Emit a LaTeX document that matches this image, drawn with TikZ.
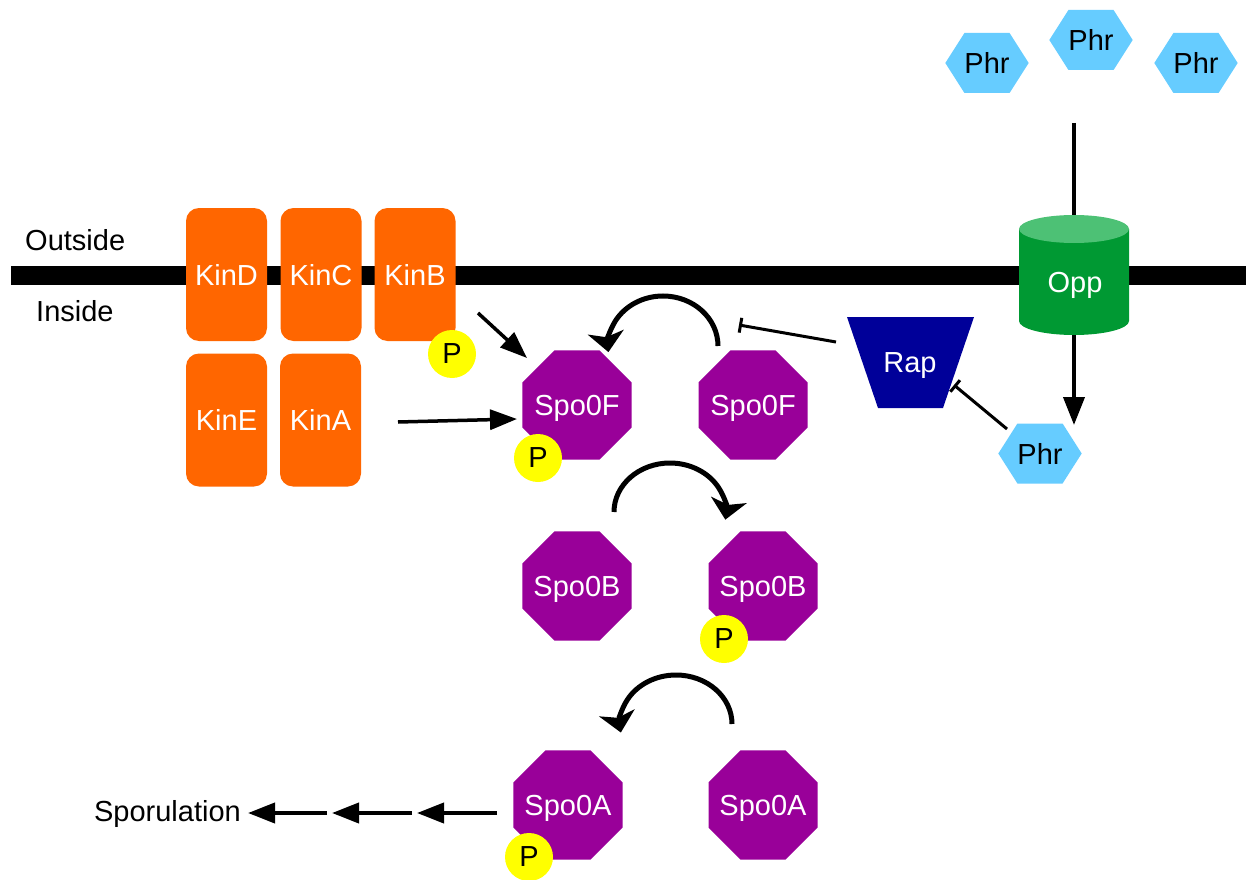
\documentclass[tikz,border=0pt]{standalone}
\usepackage{fontspec}
\setmainfont{Liberation Sans}
\usetikzlibrary{arrows.meta,shapes.geometric,shapes.symbols}

\definecolor{kinorange}{HTML}{FF6600}
\definecolor{spopurple}{HTML}{990099}
\definecolor{phosyellow}{HTML}{FFFF00}
\definecolor{phrblue}{HTML}{66CCFF}
\definecolor{rapblue}{HTML}{000099}
\definecolor{oppgreen}{HTML}{009933}
\definecolor{opptop}{HTML}{4DC175}

\newcommand{\lblfont}{\fontsize{29}{34}\selectfont}

\begin{document}
\begin{tikzpicture}[x=1pt,y=-1pt,
  lbl/.style={font=\lblfont, text depth=0pt},
  kinase/.style={lbl, rectangle, rounded corners=13pt, fill=kinorange, text=white,
    minimum width=81, minimum height=133, inner sep=0},
  spo/.style={regular polygon, regular polygon sides=8, minimum size=118,
    inner sep=0, outer sep=0, fill=spopurple,
    label={[lbl, text=white, inner sep=0]center:#1}},
  phos/.style={lbl, circle, fill=phosyellow, minimum size=48, inner sep=0},
  phr/.style={lbl, signal, signal to=west and east, signal pointer angle=115,
    fill=phrblue, minimum width=78, minimum height=60, inner sep=0},
  stick/.style={line width=3.5pt, -{Triangle[length=27pt,width=20pt]}},
  turn/.style={line width=5pt, -{Stealth[length=20pt,width=36pt,inset=5pt]}},
  inhib/.style={line width=3pt, -{Bar[width=15pt]}}]

\useasboundingbox (0,0) rectangle (1251,880);
\fill[white] (0,0) rectangle (1251,880);

% membrane
\node[fill=black, minimum width=1235, minimum height=19, inner sep=0] (membrane) at (628.5,275.5) {};
\node[lbl, anchor=west, inner sep=0] (outside) at (25,240) {Outside};
\node[lbl, anchor=west, inner sep=0] (inside) at (36,311) {Inside};

% kinases
\node[kinase] (kinD) at (226.5,274.5) {KinD};
\node[kinase] (kinC) at (321,274.5) {KinC};
\node[kinase] (kinB) at (415,274.5) {KinB};
\node[kinase] (kinE) at (226.5,420) {KinE};
\node[kinase] (kinA) at (320.5,420) {KinA};
\node[phos] (pB) at (452,354) {P};

% phosphorelay
\node[spo=Spo0F] (spoFp) at (577,405) {};
\node[spo=Spo0F] (spoF) at (753,405) {};
\node[phos] (pF) at (538,458) {P};
\node[spo=Spo0B] (spoB) at (577,586) {};
\node[spo=Spo0B] (spoBp) at (763,586) {};
\node[phos] (pBB) at (724,639) {P};
\node[spo=Spo0A] (spoAp) at (568,805) {};
\node[spo=Spo0A] (spoA) at (763,805) {};
\node[phos] (pA) at (529,857) {P};

% Opp transporter
\fill[oppgreen] (1019,229) -- (1019,321)
  arc[start angle=180, end angle=0, x radius=55, y radius=14] -- (1129,229) -- cycle;
\fill[opptop] (1074,229) ellipse[x radius=55, y radius=14];
\node[lbl, text=white] (opp) at (1075,282) {Opp};
\coordinate (oppin) at (1074,215);
\coordinate (oppout) at (1074,335);

% Rap
\fill[rapblue] (847,317) -- (974,317) -- (943,408) -- (878,408) -- cycle;
\node[lbl, text=white] (rap) at (910,362.5) {Rap};

% Phr peptides
\node[phr] (phr1) at (987,63) {Phr};
\node[phr] (phr2) at (1091,40) {Phr};
\node[phr] (phr3) at (1196,63) {Phr};
\node[phr] (phr4) at (1040,453.5) {Phr};

% connectors
\coordinate (uptake) at (1074,123);
\draw[line width=4pt] (uptake) -- (oppin);
\coordinate (phrin4) at (1074,425);
\draw[line width=4pt, -{Triangle[length=28pt,width=21pt]}] (oppout) -- (phrin4);

\coordinate (kinBout) at (478,313);
\coordinate (kinBin) at (527,358);
\draw[stick] (kinBout) -- (kinBin);
\coordinate (kinAout) at (398,422);
\coordinate (kinAin) at (517,419);
\draw[stick] (kinAout) -- (kinAin);

\coordinate (rapout) at (836,342);
\coordinate (rapin) at (739,325);
\draw[inhib] (rapout) -- (rapin);
\coordinate (phrout) at (1007,429);
\coordinate (phrin) at (954,385);
\draw[inhib] (phrout) -- (phrin);

\coordinate (turnF) at (718,346);
\draw[turn] (turnF) arc[start angle=0, end angle=-187, x radius=55, y radius=50];
\coordinate (turnB) at (614,512);
\draw[turn] (turnB) arc[start angle=-180, end angle=9, x radius=56, y radius=49];
\coordinate (turnA) at (732,724);
\draw[turn] (turnA) arc[start angle=0, end angle=-190, x radius=56, y radius=49];

% output to sporulation
\node[lbl, anchor=east, inner sep=0] (spor) at (241,811) {Sporulation};
\coordinate (s0) at (497,813);
\coordinate (s1) at (417,813);
\coordinate (s1b) at (412,813);
\coordinate (s2) at (332,813);
\coordinate (s2b) at (327,813);
\coordinate (s3) at (248,813);
\draw[stick, line width=4pt] (s0) -- (s1);
\draw[stick, line width=4pt] (s1b) -- (s2);
\draw[stick, line width=4pt] (s2b) -- (s3);
\end{tikzpicture}
\end{document}
